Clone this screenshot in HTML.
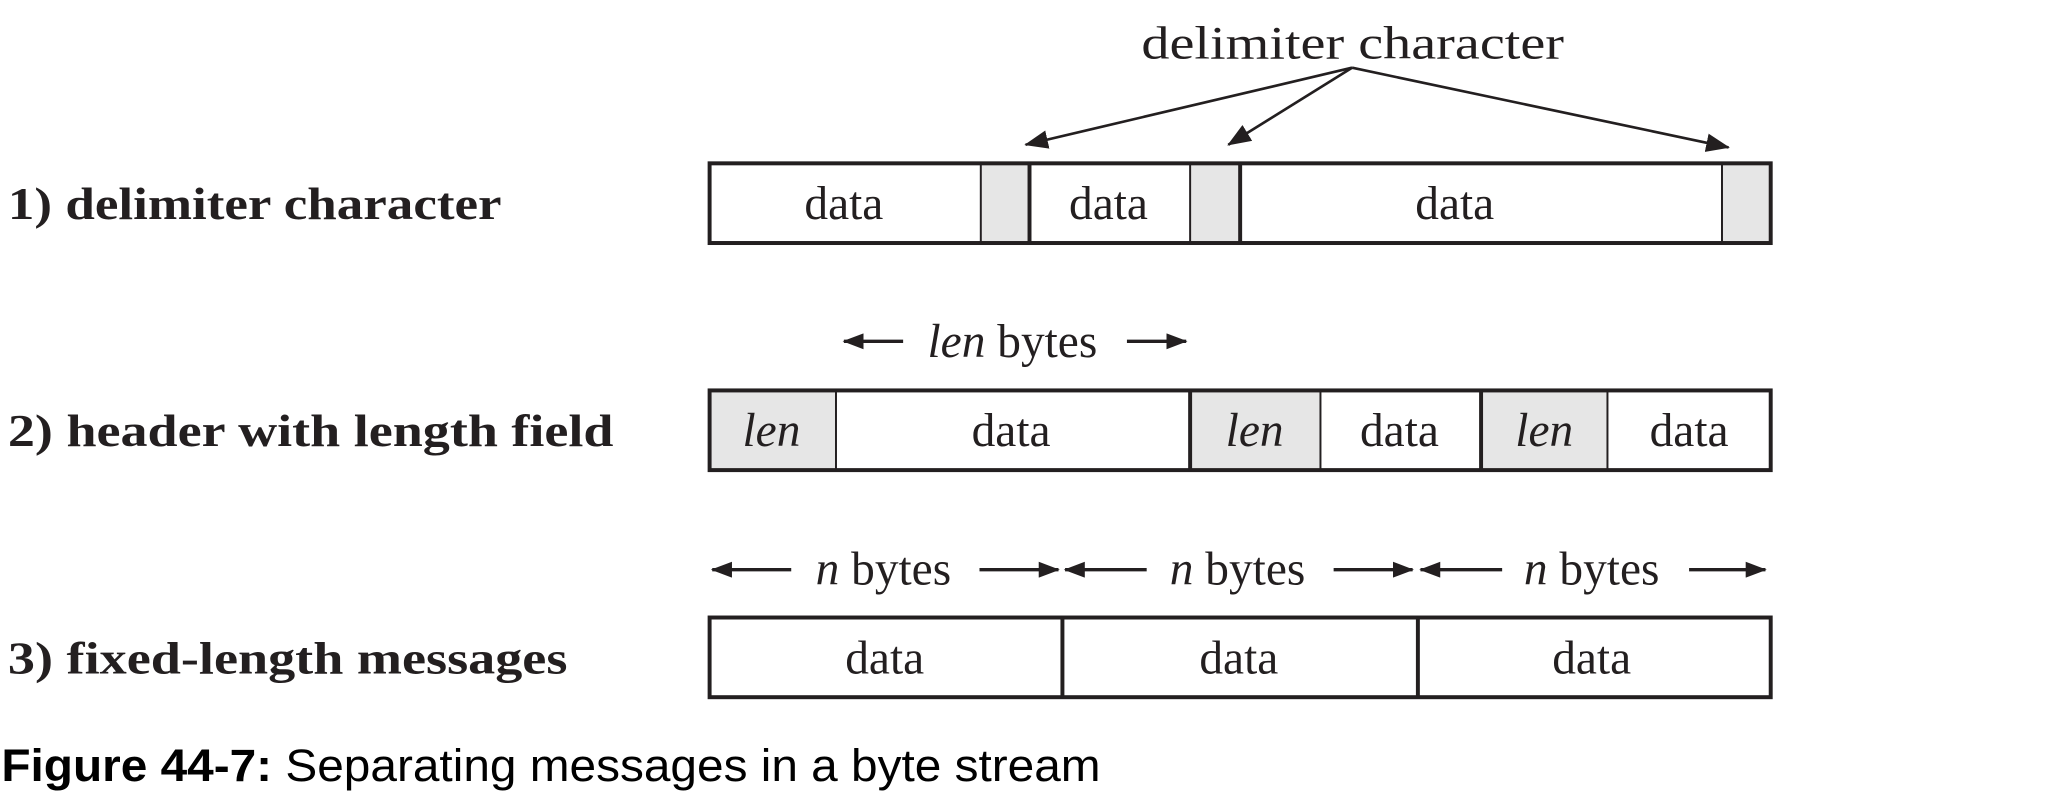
<!DOCTYPE html>
<html><head><style>html,body{margin:0;padding:0;background:#fff;}svg{display:block}</style></head>
<body>
<svg width="2062" height="800" viewBox="0 0 1560 600" preserveAspectRatio="none" xmlns="http://www.w3.org/2000/svg">
<defs>
<marker id="ah" markerWidth="16" markerHeight="12" refX="15" refY="6" orient="auto" markerUnits="userSpaceOnUse" viewBox="0 0 16 12"><path d="M0,0 L16,6 L0,12 z" fill="#231f20"/></marker>
<marker id="ah2" markerWidth="18" markerHeight="14" refX="17" refY="7" orient="auto" markerUnits="userSpaceOnUse" viewBox="0 0 18 14"><path d="M0,0 L18,7 L0,14 z" fill="#231f20"/></marker>
</defs>
<g transform="translate(1,-1) scale(0.996)">
<g font-family="Liberation Serif, serif" fill="#231f20">
<text x="5" y="166" font-size="34" font-weight="bold" textLength="375" lengthAdjust="spacingAndGlyphs">1) delimiter character</text>
<text x="5" y="337" font-size="34" font-weight="bold" textLength="460" lengthAdjust="spacingAndGlyphs">2) header with length field</text>
<text x="5" y="508" font-size="34" font-weight="bold" textLength="425" lengthAdjust="spacingAndGlyphs">3) fixed-length messages</text>

<text x="866" y="45" font-size="35" textLength="321" lengthAdjust="spacingAndGlyphs">delimiter character</text>
<g stroke="#231f20" stroke-width="2" fill="none">
<line x1="1026" y1="52" x2="778" y2="110" marker-end="url(#ah2)"/>
<line x1="1026" y1="52" x2="932" y2="110" marker-end="url(#ah2)"/>
<line x1="1026" y1="52" x2="1312" y2="112" marker-end="url(#ah2)"/>
</g>
<rect x="744" y="124" width="37" height="60" fill="#e6e6e6"/>
<rect x="903" y="124" width="38" height="60" fill="#e6e6e6"/>
<rect x="1307" y="124" width="38" height="60" fill="#e6e6e6"/>
<rect x="538" y="124" width="806" height="60" fill="none" stroke="#231f20" stroke-width="3"/>
<g stroke="#231f20"><line x1="744" y1="124" x2="744" y2="184" stroke-width="1.5"/><line x1="781" y1="124" x2="781" y2="184" stroke-width="3"/><line x1="903" y1="124" x2="903" y2="184" stroke-width="1.5"/><line x1="941" y1="124" x2="941" y2="184" stroke-width="3"/><line x1="1307" y1="124" x2="1307" y2="184" stroke-width="1.5"/></g>
<g font-size="36" text-anchor="middle"><text x="640" y="166">data</text><text x="841" y="166">data</text><text x="1104" y="166">data</text></g>

<g stroke="#231f20" stroke-width="2.5"><line x1="685" y1="258" x2="640" y2="258" marker-end="url(#ah)"/><line x1="855" y1="258" x2="900" y2="258" marker-end="url(#ah)"/></g>
<text x="768" y="270" font-size="36" text-anchor="middle"><tspan font-style="italic">len</tspan> bytes</text>
<rect x="538" y="295" width="96" height="60" fill="#e6e6e6"/>
<rect x="903" y="295" width="99" height="60" fill="#e6e6e6"/>
<rect x="1124" y="295" width="96" height="60" fill="#e6e6e6"/>
<rect x="538" y="295" width="806" height="60" fill="none" stroke="#231f20" stroke-width="3"/>
<g stroke="#231f20"><line x1="634" y1="295" x2="634" y2="355" stroke-width="1.5"/><line x1="903" y1="295" x2="903" y2="355" stroke-width="3"/><line x1="1002" y1="295" x2="1002" y2="355" stroke-width="1.5"/><line x1="1124" y1="295" x2="1124" y2="355" stroke-width="3"/><line x1="1220" y1="295" x2="1220" y2="355" stroke-width="1.5"/></g>
<g font-size="36" text-anchor="middle"><text x="585" y="337" font-style="italic">len</text><text x="767" y="337">data</text><text x="952" y="337" font-style="italic">len</text><text x="1062" y="337">data</text><text x="1172" y="337" font-style="italic">len</text><text x="1282" y="337">data</text></g>

<g stroke="#231f20" stroke-width="2.5">
<line x1="600" y1="430" x2="540" y2="430" marker-end="url(#ah)"/><line x1="743" y1="430" x2="803" y2="430" marker-end="url(#ah)"/>
<line x1="870" y1="430" x2="808" y2="430" marker-end="url(#ah)"/><line x1="1012" y1="430" x2="1072" y2="430" marker-end="url(#ah)"/>
<line x1="1140" y1="430" x2="1078" y2="430" marker-end="url(#ah)"/><line x1="1282" y1="430" x2="1340" y2="430" marker-end="url(#ah)"/>
</g>
<g font-size="36" text-anchor="middle">
<text x="670" y="441"><tspan font-style="italic">n</tspan> bytes</text>
<text x="939" y="441"><tspan font-style="italic">n</tspan> bytes</text>
<text x="1208" y="441"><tspan font-style="italic">n</tspan> bytes</text>
</g>
<rect x="538" y="466" width="806" height="60" fill="none" stroke="#231f20" stroke-width="3"/>
<g stroke="#231f20" stroke-width="3"><line x1="806" y1="466" x2="806" y2="526"/><line x1="1076" y1="466" x2="1076" y2="526"/></g>
<g font-size="36" text-anchor="middle"><text x="671" y="508">data</text><text x="940" y="508">data</text><text x="1208" y="508">data</text></g>
</g>
<text x="0" y="589" font-family="Liberation Sans, sans-serif" font-size="34" fill="#000" textLength="835" lengthAdjust="spacingAndGlyphs"><tspan font-weight="bold">Figure 44-7:</tspan> Separating messages in a byte stream</text>
</g>
</svg>
</body></html>
